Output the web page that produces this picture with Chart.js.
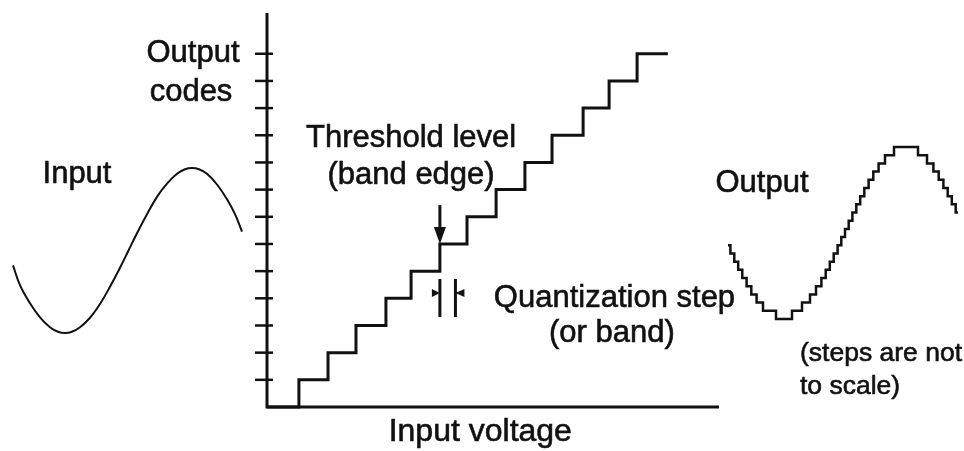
<!DOCTYPE html>
<html>
<head>
<meta charset="utf-8">
<script src="https://cdn.jsdelivr.net/npm/chart.js@4.4.1/dist/chart.umd.min.js"></script>
<style>
  body { margin: 0; background: #fff; }
  #wrap { position: relative; width: 964px; height: 451px; }
  canvas { position: absolute; left: 0; top: 0; }
</style>
</head>
<body>
<div id="wrap">
  <canvas id="inputChart" width="964" height="451"></canvas>
  <canvas id="mainChart" width="964" height="451"></canvas>
  <canvas id="outputChart" width="964" height="451"></canvas>
</div>
<script>
// input signal (time, amplitude -1..1)
const inputTime = [0, 0.7, 1.7, 2.7, 3.7, 4.5, 5.2, 5.9, 6.7, 7.7, 8.7, 9.7, 10.7, 11.55, 12.4,
  13.4, 14.4, 15.4, 16.4, 17.2, 17.9, 18.6, 19.4, 20.4, 21.4, 22.2, 22.9];
const inputAmp = [-0.18, -0.42, -0.64, -0.81, -0.93, -0.985, -1, -0.985, -0.93, -0.815, -0.648, -0.44, -0.21, 0,
  0.21, 0.44, 0.65, 0.81, 0.93, 0.985, 1, 0.985, 0.93, 0.8, 0.62, 0.44, 0.23];

// transfer curve: input voltage where each code begins
const thresholds = [0, 1.13, 2.16, 3.15, 4.21, 5.1, 6.12, 7.08, 8.11, 9.13, 10.09, 11.19, 12.11, 13.1, 14.19];
const codes = [0, 1, 2, 3, 4, 5, 6, 7, 8, 9, 10, 11, 12, 13, 13];
const codeTicks = [1, 2, 3, 4, 5, 6, 7, 8, 9, 10, 11, 12, 13];

// quantized output (time, code)
const outTime = [0, 0.24, 0.63, 1.02, 1.43, 1.86, 2.33, 2.86, 3.5, 4.8, 6.4, 7.4, 8.2, 8.8, 9.34, 9.77,
  10.18, 10.57, 10.96, 11.33, 11.7, 12.07, 12.44, 12.83, 13.22, 13.63, 14.06, 14.53, 15.06, 15.7, 16.6,
  19.0, 19.9, 20.54, 21.07, 21.54, 21.97, 22.38, 22.77, 23.0];
const outCode = [9, 8, 7, 6, 5, 4, 3, 2, 1, 0, 1, 2, 3, 4, 5, 6,
  7, 8, 9, 10, 11, 12, 13, 14, 15, 16, 17, 18, 19, 20, 21,
  20, 19, 18, 17, 16, 15, 14, 13, 13];

const ink = '#111';
const font = '"Liberation Sans", Arial, sans-serif';

function pts(xs, ys) {
  return xs.map((v, i) => ({ x: v, y: ys[i] }));
}

function labelPlugin(id, labels, extra) {
  return {
    id: id,
    afterDatasetsDraw(chart) {
      const { ctx, scales: { x, y } } = chart;
      ctx.save();
      ctx.fillStyle = ink;
      ctx.strokeStyle = ink;
      if (extra) extra(ctx, v => x.getPixelForValue(v), v => y.getPixelForValue(v));
      ctx.lineWidth = 0.6;
      labels.forEach(l => {
        ctx.font = (l.size || 31) + 'px ' + font;
        ctx.textAlign = l.align || 'center';
        ctx.textBaseline = 'alphabetic';
        const tx = x.getPixelForValue(l.x), ty = y.getPixelForValue(l.y);
        ctx.fillText(l.text, tx, ty);
        ctx.strokeText(l.text, tx, ty); // scan text is a little heavy
      });
      ctx.restore();
    }
  };
}

function baseOptions(pad, xr, yr) {
  return {
    responsive: false,
    animation: false,
    events: [],
    layout: { padding: pad },
    plugins: { legend: { display: false }, tooltip: { enabled: false } },
    scales: {
      x: { type: 'linear', min: xr[0], max: xr[1], display: false },
      y: { type: 'linear', min: yr[0], max: yr[1], display: false }
    }
  };
}

// input sine
new Chart(document.getElementById('inputChart'), {
  type: 'line',
  data: {
    datasets: [{
      data: pts(inputTime, inputAmp),
      borderColor: ink,
      borderWidth: 2,
      pointRadius: 0,
      tension: 0.4,
      clip: false
    }]
  },
  options: baseOptions({ left: 13, right: 722, top: 168, bottom: 118 }, [0, 22.9], [-1, 1]),
  plugins: [labelPlugin('inLabels', [{ text: 'Input', x: 6.4, y: 0.82 }])]
});

// transfer staircase
const xMax = 16, yMax = 14.5;
const mainLabels = [
  { text: 'Output', x: -2.62, y: 12.7 },
  { text: 'codes', x: -2.69, y: 11.26 },
  { text: 'Threshold level', x: 5.1, y: 9.57 },
  { text: '(band edge)', x: 5.1, y: 8.21 },
  { text: 'Quantization step', x: 12.3, y: 3.68 },
  { text: '(or band)', x: 12.21, y: 2.39 },
  { text: 'Input voltage', x: 7.55, y: -1.26, size: 32 }
];

function drawMain(ctx, px, py) {
  // axes
  ctx.lineWidth = 3;
  ctx.beginPath();
  ctx.moveTo(px(0), py(yMax));
  ctx.lineTo(px(0), py(0));
  ctx.lineTo(px(xMax), py(0));
  ctx.stroke();
  // tick marks crossing the code axis
  ctx.lineWidth = 2.5;
  codeTicks.forEach(c => {
    ctx.beginPath();
    ctx.moveTo(px(0) - 12, py(c));
    ctx.lineTo(px(0) + 6, py(c));
    ctx.stroke();
  });
  // threshold arrow onto the riser into code 6
  const ax = px(thresholds[6]), tip = py(6);
  ctx.lineWidth = 3;
  ctx.beginPath();
  ctx.moveTo(ax, py(7.43));
  ctx.lineTo(ax, tip - 12);
  ctx.stroke();
  ctx.beginPath();
  ctx.moveTo(ax - 6, tip - 17);
  ctx.lineTo(ax + 6, tip - 17);
  ctx.lineTo(ax, tip);
  ctx.closePath();
  ctx.fill();
  // quantization step marker
  const b1 = px(6.12), b2 = px(6.67), yh = py(4.2);
  ctx.beginPath();
  ctx.moveTo(b1, py(4.71)); ctx.lineTo(b1, py(3.31));
  ctx.moveTo(b2, py(4.71)); ctx.lineTo(b2, py(3.31));
  ctx.stroke();
  ctx.beginPath();
  ctx.moveTo(b1 - 8, yh - 4); ctx.lineTo(b1, yh); ctx.lineTo(b1 - 8, yh + 4); ctx.closePath();
  ctx.moveTo(b2 + 9, yh - 4); ctx.lineTo(b2, yh); ctx.lineTo(b2 + 9, yh + 4); ctx.closePath();
  ctx.fill();
}

new Chart(document.getElementById('mainChart'), {
  type: 'line',
  data: {
    datasets: [{
      data: pts(thresholds, codes),
      borderColor: ink,
      borderWidth: 3,
      pointRadius: 0,
      stepped: 'before',
      clip: false
    }]
  },
  options: baseOptions({ left: 267, right: 245, top: 13, bottom: 44 }, [0, xMax], [0, yMax]),
  plugins: [labelPlugin('mainLabels', mainLabels, drawMain)]
});

// quantized output
new Chart(document.getElementById('outputChart'), {
  type: 'line',
  data: {
    datasets: [{
      data: pts(outTime, outCode),
      borderColor: ink,
      borderWidth: 2.5,
      pointRadius: 0,
      stepped: 'before',
      clip: false
    }]
  },
  options: baseOptions({ left: 728, right: 6, top: 147, bottom: 132 }, [0, 23], [0, 21]),
  plugins: [labelPlugin('outLabels', [
    { text: 'Output', x: 3.4, y: 15.5 },
    { text: '(steps are not', x: 7.2, y: -5.13, align: 'left', size: 26.5 },
    { text: 'to scale)', x: 7.2, y: -9.16, align: 'left', size: 26.5 }
  ])]
});
</script>
</body>
</html>
